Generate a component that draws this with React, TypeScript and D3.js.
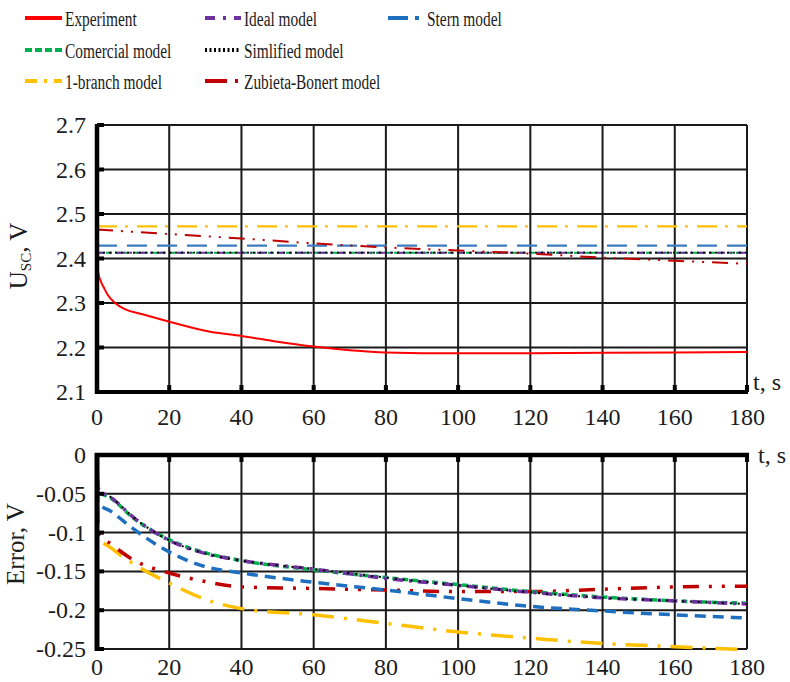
import React from 'react';
import * as d3 from 'd3';

// --- data ---
const timeTicks = [0, 20, 40, 60, 80, 100, 120, 140, 160, 180];
const voltTicks = [2.1, 2.2, 2.3, 2.4, 2.5, 2.6, 2.7];
const errorTicks = [0, -0.05, -0.1, -0.15, -0.2, -0.25];

// top plot: terminal voltage
const expTime = [0, 0.3, 1, 2, 3, 5, 7.7, 12, 20, 31, 40, 50, 60, 70, 80, 100, 120, 140, 160, 180];
const expVolt = [2.405, 2.37, 2.35, 2.333, 2.318, 2.3, 2.286, 2.276, 2.258, 2.236, 2.226, 2.213, 2.202, 2.194, 2.189, 2.187, 2.187, 2.188, 2.189, 2.19];
const flatTime = [0, 180];
const oneBranchVolt = [2.472, 2.472];
const sternVolt = [2.429, 2.429];
const idealVolt = [2.413, 2.413];
const comercialVolt = [2.413, 2.413];
const simplifiedVolt = [2.413, 2.413];
const zubietaVolt = [2.465, 2.455, 2.445, 2.434, 2.425, 2.418, 2.411, 2.402, 2.395, 2.388];

// bottom plot: error
const errTime = [0, 0.3, 4, 10, 20, 30, 40, 60, 80, 100, 120, 140, 160, 180];
const idealErr = [0, -0.043, -0.055, -0.08, -0.11, -0.127, -0.136, -0.147, -0.159, -0.168, -0.177, -0.184, -0.188, -0.192];
const comercialErr = [0, -0.046, -0.056, -0.081, -0.109, -0.126, -0.136, -0.148, -0.158, -0.167, -0.176, -0.183, -0.188, -0.191];
const simplifiedErr = [0, -0.044, -0.055, -0.08, -0.11, -0.127, -0.136, -0.147, -0.158, -0.168, -0.177, -0.184, -0.188, -0.192];
const sternErr = [0, -0.062, -0.073, -0.095, -0.125, -0.144, -0.152, -0.164, -0.174, -0.185, -0.195, -0.201, -0.206, -0.21];
const zubietaErr = [0, -0.1, -0.115, -0.135, -0.152, -0.163, -0.17, -0.172, -0.174, -0.176, -0.176, -0.173, -0.17, -0.169];
const oneBranchErr = [0, -0.105, -0.12, -0.14, -0.165, -0.186, -0.198, -0.206, -0.217, -0.228, -0.236, -0.243, -0.247, -0.251];

const C = {
  exp: '#ff0000',
  ideal: '#7030a0',
  stern: '#1f6fc0',
  comercial: '#00b050',
  simplified: '#000000',
  oneBranch: '#ffc000',
  zubieta: '#c00000',
};

const FONT = "'Liberation Serif', 'Times New Roman', serif";

const x = d3.scaleLinear().domain([0, 180]).range([97, 747]);
const yTop = d3.scaleLinear().domain([2.1, 2.7]).range([392, 125]);
const yBot = d3.scaleLinear().domain([-0.25, 0]).range([649, 455]);

const path = (ts: number[], vs: number[], y: d3.ScaleLinear<number, number>) =>
  d3.line<number>().x((_, i) => x(ts[i])).y(v => y(v)).curve(d3.curveMonotoneX)(vs) || '';

const legend = [
  { label: 'Experiment', color: C.exp, dash: '', lx: 25, tx: 65, row: 0 },
  { label: 'Ideal model', color: C.ideal, dash: '10,8,3,8', lx: 205, tx: 244, row: 0 },
  { label: 'Stern model', color: C.stern, dash: '20,7,4,8', lx: 388, tx: 427, row: 0 },
  { label: 'Comercial model', color: C.comercial, dash: '7,3', lx: 25, tx: 65, row: 1 },
  { label: 'Simlified model', color: C.simplified, dash: '2,2.5', lx: 205, tx: 244, row: 1 },
  { label: '1-branch model', color: C.oneBranch, dash: '12,7,3,7', lx: 25, tx: 65, row: 2 },
  { label: 'Zubieta-Bonert model', color: C.zubieta, dash: '22,8,3,20', lx: 205, tx: 244, row: 2 },
];
const rowBase = [26, 58, 89];

const txt = { fontFamily: FONT, fill: '#1c1c1c' };

export default function App() {
  const grid = '#1a1a1a';
  return (
    <svg width={790} height={682} style={{ position: 'absolute', left: 0, top: 0, background: '#fff', fontFamily: FONT }}>
      {/* legend */}
      {legend.map(l => (
        <g key={l.label}>
          <line x1={l.lx} x2={l.tx - 3} y1={rowBase[l.row] - 8} y2={rowBase[l.row] - 8}
            stroke={l.color} strokeWidth={4} strokeDasharray={l.dash} />
          <text transform={`translate(${l.tx},${rowBase[l.row]}) scale(0.77,1)`} fontSize={20} style={txt}>{l.label}</text>
        </g>
      ))}

      {/* ---- top plot ---- */}
      <g>
        {timeTicks.map(t => (
          <line key={'tv' + t} x1={x(t)} x2={x(t)} y1={yTop(2.7)} y2={yTop(2.1)} stroke={grid} strokeWidth={2} />
        ))}
        {voltTicks.map(v => (
          <line key={'th' + v} x1={x(0)} x2={x(180)} y1={yTop(v)} y2={yTop(v)} stroke={grid} strokeWidth={2} />
        ))}
        <path d={path(flatTime, oneBranchVolt, yTop)} fill="none" stroke={C.oneBranch} strokeWidth={2.2} strokeDasharray="20,8,3,9" />
        <path d={path(flatTime, sternVolt, yTop)} fill="none" stroke="#3d7cc0" strokeWidth={2.2} strokeDasharray="20,10" />
        <path d={path(flatTime, comercialVolt, yTop)} fill="none" stroke={C.comercial} strokeWidth={2} strokeDasharray="6,3" />
        <path d={path(flatTime, idealVolt, yTop)} fill="none" stroke={C.ideal} strokeWidth={2} strokeDasharray="8,5,2,5" />
        <path d={path(flatTime, simplifiedVolt, yTop)} fill="none" stroke={C.simplified} strokeWidth={1.8} strokeDasharray="2,4" />
        <path d={path(timeTicks, zubietaVolt, yTop)} fill="none" stroke={C.zubieta} strokeWidth={2} strokeDasharray="16,8,2,8,2,8" />
        <path d={path(expTime, expVolt, yTop)} fill="none" stroke={C.exp} strokeWidth={2} />
        {/* axes */}
        <line x1={x(0)} x2={x(0)} y1={yTop(2.7) - 1} y2={yTop(2.1) + 2} stroke="#000" strokeWidth={4.5} />
        <line x1={x(0) - 2} x2={x(180) + 1} y1={yTop(2.1)} y2={yTop(2.1)} stroke="#000" strokeWidth={4} />
        {voltTicks.map(v => (
          <line key={'tlt' + v} x1={x(0)} x2={x(0) + 7} y1={yTop(v)} y2={yTop(v)} stroke="#000" strokeWidth={4} />
        ))}
        {timeTicks.map(t => (
          <line key={'tbt' + t} x1={x(t)} x2={x(t)} y1={yTop(2.1)} y2={yTop(2.1) - 7} stroke="#000" strokeWidth={4} />
        ))}
        {voltTicks.map(v => (
          <text key={'tyl' + v} x={86} y={yTop(v) + 8} textAnchor="end" fontSize={24} style={txt}>{v.toFixed(1)}</text>
        ))}
        {timeTicks.map(t => (
          <text key={'txl' + t} x={x(t)} y={425} textAnchor="middle" fontSize={24} style={txt}>{t}</text>
        ))}
        <text x={753} y={390} fontSize={24} style={txt}>t, s</text>
        <text transform="translate(27,256) rotate(-90)" textAnchor="middle" fontSize={25} style={txt}>
          U<tspan fontSize={15} dy={4}>SC</tspan><tspan dy={-4}>, V</tspan>
        </text>
      </g>

      {/* ---- bottom plot ---- */}
      <g>
        {timeTicks.map(t => (
          <line key={'bv' + t} x1={x(t)} x2={x(t)} y1={yBot(0)} y2={yBot(-0.25)} stroke={grid} strokeWidth={2} />
        ))}
        {errorTicks.map(v => (
          <line key={'bh' + v} x1={x(0)} x2={x(180)} y1={yBot(v)} y2={yBot(v)} stroke={grid} strokeWidth={2} />
        ))}
        <path d={path(errTime, oneBranchErr, yBot)} fill="none" stroke={C.oneBranch} strokeWidth={3.5} strokeDasharray="22,10,3,10" />
        <path d={path(errTime, zubietaErr, yBot)} fill="none" stroke={C.zubieta} strokeWidth={3.5} strokeDasharray="16,10,3,10,3,10" />
        <path d={path(errTime, sternErr, yBot)} fill="none" stroke={C.stern} strokeWidth={3.5} strokeDasharray="11,7" />
        <path d={path(errTime, comercialErr, yBot)} fill="none" stroke={C.comercial} strokeWidth={3.5} strokeDasharray="6,4" />
        <path d={path(errTime, idealErr, yBot)} fill="none" stroke={C.ideal} strokeWidth={3.5} strokeDasharray="10,6,3,6" />
        <path d={path(errTime, simplifiedErr, yBot)} fill="none" stroke={C.simplified} strokeWidth={2} strokeDasharray="2,6" />
        {/* axes */}
        <line x1={x(0)} x2={x(0)} y1={yBot(0) - 2} y2={yBot(-0.25) + 2} stroke="#000" strokeWidth={5} />
        <line x1={x(0) - 2} x2={x(180) + 2} y1={yBot(0)} y2={yBot(0)} stroke="#000" strokeWidth={4.5} />
        {errorTicks.map(v => (
          <line key={'blt' + v} x1={x(0)} x2={x(0) + 7} y1={yBot(v)} y2={yBot(v)} stroke="#000" strokeWidth={4} />
        ))}
        {timeTicks.map(t => (
          <line key={'btt' + t} x1={x(t)} x2={x(t)} y1={yBot(0)} y2={yBot(0) + 7} stroke="#000" strokeWidth={4} />
        ))}
        {errorTicks.map(v => (
          <text key={'byl' + v} x={86} y={yBot(v) + 8} textAnchor="end" fontSize={24} style={txt}>{v === 0 ? '0' : String(v)}</text>
        ))}
        {timeTicks.map(t => (
          <text key={'bxl' + t} x={x(t)} y={675} textAnchor="middle" fontSize={24} style={txt}>{t}</text>
        ))}
        <text x={758} y={463} fontSize={24} style={txt}>t, s</text>
        <text transform="translate(24,544) rotate(-90)" textAnchor="middle" fontSize={25} style={txt}>Error, V</text>
      </g>
    </svg>
  );
}
